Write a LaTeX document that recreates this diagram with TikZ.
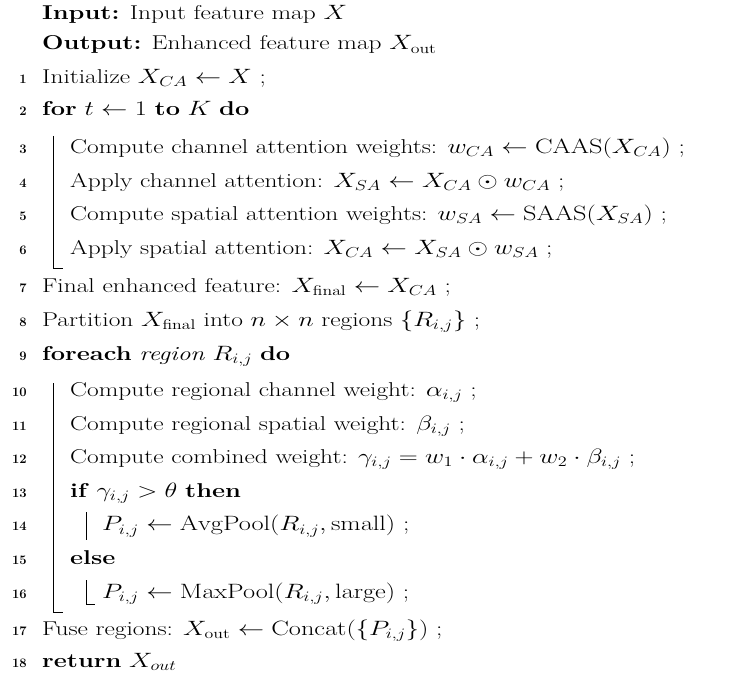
\documentclass[tikz,border=0pt]{standalone}
\usepackage{amsmath}
\newcommand\widetxt[1]{\scalebox{1.27}[1]{#1}}
\begin{document}
\begin{tikzpicture}[x=1pt,y=-1pt,
  txt/.style={anchor=base west,inner sep=0pt,font=\fontsize{20}{23}\selectfont},
  num/.style={anchor=base east,inner sep=0pt,font=\fontsize{13}{15}\selectfont\bfseries},
  bar/.style={line width=0.8pt}]
\useasboundingbox (0,0) rectangle (750,682);
\node[txt] (in) at (42,20) {\widetxt{\textbf{Input:} Input feature map $X$}};
\node[txt] (out) at (42,50) {\widetxt{\textbf{Output:} Enhanced feature map $X_{\text{out}}$}};
\foreach \n/\y in {1/87,2/120,3/160,4/195,5/230,6/265,7/305,8/340,9/375,10/413,11/448,12/483,13/518,14/553,15/588,16/623,17/662,18/695}{
  \node[num] (n\n) at (27,\y*0.96) {\n};}
\node[txt] (l1) at (42,83.5) {\widetxt{Initialize $X_{CA}\leftarrow X$ ;}};
\node[txt] (l2) at (42,115.2) {\widetxt{\textbf{for} $t\leftarrow 1$ \textbf{to} $K$ \textbf{do}}};
\node[txt] (l3) at (70,153.6) {\widetxt{Compute channel attention weights: $w_{CA}\leftarrow \mathrm{CAAS}(X_{CA})$ ;}};
\node[txt] (l4) at (70,187.2) {\widetxt{Apply channel attention: $X_{SA}\leftarrow X_{CA}\odot w_{CA}$ ;}};
\node[txt] (l5) at (70,220.8) {\widetxt{Compute spatial attention weights: $w_{SA}\leftarrow \mathrm{SAAS}(X_{SA})$ ;}};
\node[txt] (l6) at (70,254.4) {\widetxt{Apply spatial attention: $X_{CA}\leftarrow X_{SA}\odot w_{SA}$ ;}};
\node[txt] (l7) at (42,292.8) {\widetxt{Final enhanced feature: $X_{\text{final}}\leftarrow X_{CA}$ ;}};
\node[txt] (l8) at (42,326.4) {\widetxt{Partition $X_{\text{final}}$ into $n\times n$ regions $\{R_{i,j}\}$ ;}};
\node[txt] (l9) at (42,360) {\widetxt{\textbf{foreach} \textit{region} $R_{i,j}$ \textbf{do}}};
\node[txt] (l10) at (70,396.5) {\widetxt{Compute regional channel weight: $\alpha_{i,j}$ ;}};
\node[txt] (l11) at (70,430) {\widetxt{Compute regional spatial weight: $\beta_{i,j}$ ;}};
\node[txt] (l12) at (70,463.7) {\widetxt{Compute combined weight: $\gamma_{i,j}=w_1\cdot\alpha_{i,j}+w_2\cdot\beta_{i,j}$ ;}};
\node[txt] (l13) at (70,497.3) {\widetxt{\textbf{if} $\gamma_{i,j}>\theta$ \textbf{then}}};
\node[txt] (l14) at (102,530.9) {\widetxt{$P_{i,j}\leftarrow \mathrm{AvgPool}(R_{i,j},\mathrm{small})$ ;}};
\node[txt] (l15) at (70,564.5) {\widetxt{\textbf{else}}};
\node[txt] (l16) at (102,598.1) {\widetxt{$P_{i,j}\leftarrow \mathrm{MaxPool}(R_{i,j},\mathrm{large})$ ;}};
\node[txt] (l17) at (42,635.5) {\widetxt{Fuse regions: $X_{\text{out}}\leftarrow \mathrm{Concat}(\{P_{i,j}\})$ ;}};
\node[txt] (l18) at (42,667.2) {\widetxt{\textbf{return} $X_{out}$}};
\coordinate (a1) at (53,136); \coordinate (a2) at (53,268); \coordinate (a3) at (63,268);
\draw[bar] (a1) -- (a2) -- (a3);
\coordinate (b1) at (53,383); \coordinate (b2) at (53,612); \coordinate (b3) at (63,612);
\draw[bar] (b1) -- (b2) -- (b3);
\coordinate (c1) at (86,512); \coordinate (c2) at (86,540);
\draw[bar] (c1) -- (c2);
\coordinate (d1) at (86,580); \coordinate (d2) at (86,604); \coordinate (d3) at (95,604);
\draw[bar] (d1) -- (d2) -- (d3);
\end{tikzpicture}
\end{document}
